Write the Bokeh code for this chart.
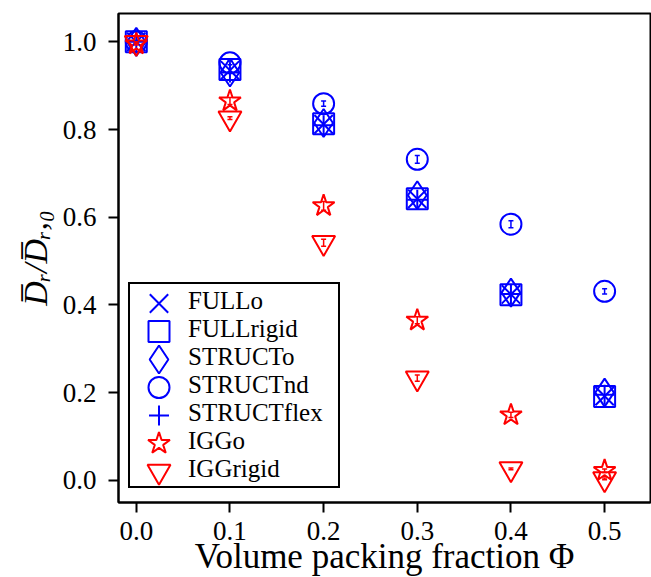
from bokeh.plotting import figure
from bokeh.models import Range1d, FixedTicker, Legend, LegendItem
from bokeh.embed import file_html
from bokeh.resources import INLINE

# ---- data ----
phi = [0.0, 0.1, 0.2, 0.3, 0.4, 0.5]
full_o = [1.0, 0.935, 0.812, 0.642, 0.424, 0.192]
full_rigid = [1.0, 0.937, 0.813, 0.642, 0.423, 0.191]
struct_o = [1.0, 0.930, 0.815, 0.650, 0.428, 0.200]
struct_nd = [1.0, 0.952, 0.859, 0.732, 0.584, 0.431]
struct_flex = [1.0, 0.930, 0.810, 0.640, 0.425, 0.195]
igg_o = [0.995, 0.865, 0.626, 0.365, 0.149, 0.022]
igg_rigid = [0.998, 0.826, 0.542, 0.233, 0.026, 0.003]

struct_nd_err = [0.002, 0.004, 0.006, 0.009, 0.008, 0.006]
igg_o_err = [0.002, 0.008, 0.010, 0.008, 0.006, 0.004]
igg_rigid_err = [0.002, 0.003, 0.008, 0.007, 0.002, 0.002]

series_names = ["FULLo", "FULLrigid", "STRUCTo", "STRUCTnd", "STRUCTflex", "IGGo", "IGGrigid"]

x_ticks = [0.0, 0.1, 0.2, 0.3, 0.4, 0.5]
x_tick_labels = ["0.0", "0.1", "0.2", "0.3", "0.4", "0.5"]
y_ticks = [0.0, 0.2, 0.4, 0.6, 0.8, 1.0]
y_tick_labels = ["0.0", "0.2", "0.4", "0.6", "0.8", "1.0"]

x_label = "Volume packing fraction \u03a6"
y_label = "D\u0305\u1d63/D\u0305\u1d63,\u2080"

# ---- layout / style ----
X0, X1 = -0.019, 0.549
Y0, Y1 = -0.0506, 1.0646
FW, FH = 532, 489
BLUE = "#0000ff"
RED = "#ff0000"
FONT = "Liberation Serif"

styles = [
    dict(marker="x", size=26, color=BLUE),
    dict(marker="square", size=21, color=BLUE),
    dict(marker="diamond", size=28, color=BLUE),
    dict(marker="circle", size=21, color=BLUE),
    dict(marker="cross", size=20, color=BLUE),
    dict(marker="star", size=23, color=RED),
    dict(marker="inverted_triangle", size=23, color=RED),
]
values = [full_o, full_rigid, struct_o, struct_nd, struct_flex, igg_o, igg_rigid]
errors = [None, None, None, struct_nd_err, None, igg_o_err, igg_rigid_err]

p = figure(frame_width=FW, frame_height=FH,
           x_range=Range1d(X0, X1), y_range=Range1d(Y0, Y1),
           output_backend="svg", toolbar_location=None,
           min_border_left=118, min_border_right=1,
           min_border_top=13, min_border_bottom=75,
           background_fill_color="white", border_fill_color="white")

p.xgrid.visible = False
p.ygrid.visible = False
p.outline_line_color = "black"
p.outline_line_width = 2
p.outline_line_alpha = 1

for ax, ticks, labels in ((p.xaxis, x_ticks, x_tick_labels), (p.yaxis, y_ticks, y_tick_labels)):
    ax.ticker = FixedTicker(ticks=ticks)
    ax.major_label_overrides = {t: l for t, l in zip(ticks, labels)}
    ax.major_label_text_font = FONT
    ax.major_label_text_font_size = "27px"
    ax.major_label_text_color = "black"
    ax.axis_line_color = "black"
    ax.axis_line_width = 2
    ax.major_tick_line_color = "black"
    ax.major_tick_line_width = 2
    ax.major_tick_in = 0
    ax.major_tick_out = 10
    ax.minor_tick_line_color = None
    ax.axis_label_text_color = "black"
    ax.axis_label_text_font = FONT

p.xaxis.axis_label = x_label
p.xaxis.axis_label_text_font_size = "35px"
p.xaxis.axis_label_text_font_style = "normal"
p.xaxis.major_label_standoff = 9
p.xaxis.axis_label_standoff = -6

p.yaxis.axis_label = y_label
p.yaxis.axis_label_text_font_size = "34px"
p.yaxis.axis_label_text_font_style = "italic"
p.yaxis.major_label_standoff = 12
p.yaxis.axis_label_standoff = 6

# ---- data glyphs ----
for vals, err, st in zip(values, errors, styles):
    if err is not None:
        lo = [v - e for v, e in zip(vals, err)]
        hi = [v + e for v, e in zip(vals, err)]
        p.segment(x0=phi, y0=lo, x1=phi, y1=hi, line_color=st["color"], line_width=1.5)
        p.scatter(x=phi, y=lo, marker="dash", size=5, line_color=st["color"], line_width=1.5)
        p.scatter(x=phi, y=hi, marker="dash", size=5, line_color=st["color"], line_width=1.5)
    p.scatter(x=phi, y=vals, marker=st["marker"], size=st["size"],
              line_color=st["color"], fill_color=None, line_width=2)

# ---- legend ----
LEG_X, LEG_Y = 10, 14          # px from frame bottom-left
PAD, ROW, GW, STAND, LW = 3, 28, 55, 0, 147
n = len(series_names)
leg_h = 2 * PAD + n * ROW
sx = (X1 - X0) / FW
sy = (Y1 - Y0) / FH
items = []
for i, (name, st) in enumerate(zip(series_names, styles)):
    px = LEG_X + PAD + GW / 2
    py = LEG_Y + leg_h - PAD - ROW / 2 - ROW * i
    p.scatter(x=[X0 + px * sx], y=[Y0 + py * sy], marker=st["marker"], size=st["size"],
              line_color=st["color"], fill_color=None, line_width=2)
    dummy = p.scatter(x=[X0], y=[Y0], marker="circle", size=1, line_alpha=0, fill_alpha=0)
    items.append(LegendItem(label=name, renderers=[dummy]))

legend = Legend(items=items, location=(LEG_X, LEG_Y), margin=0, padding=PAD, spacing=0,
                glyph_width=GW, glyph_height=ROW, label_height=ROW, label_width=LW,
                label_standoff=STAND, label_text_font=FONT, label_text_font_size="25px",
                label_text_color="black",
                border_line_color="black", border_line_width=2, border_line_alpha=1,
                background_fill_alpha=0)
p.add_layout(legend)

open("out.html", "w").write(file_html(p, INLINE))
